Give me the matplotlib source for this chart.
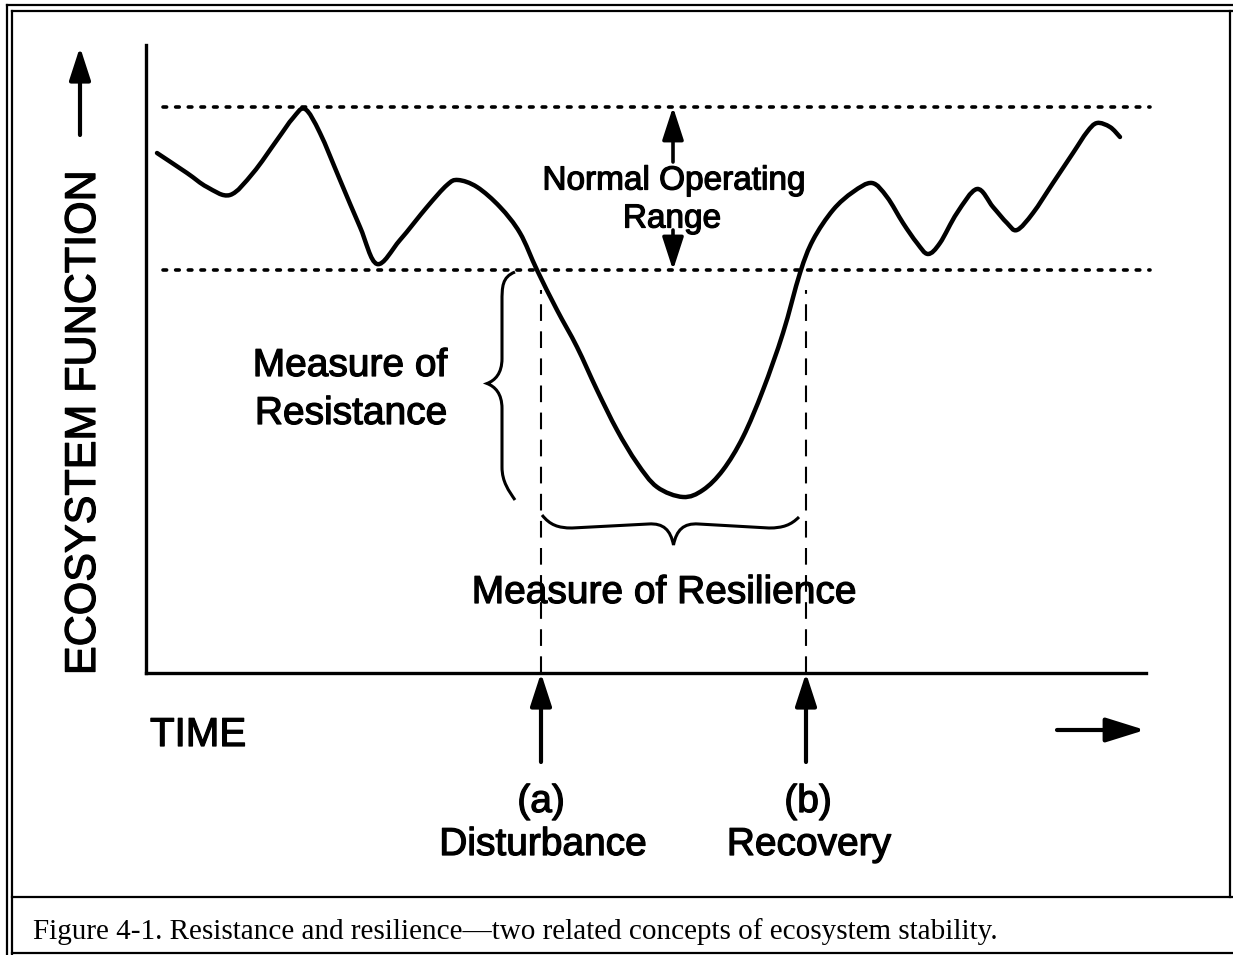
import matplotlib
matplotlib.use("Agg")
import matplotlib.pyplot as plt
import matplotlib.patheffects as pe
from matplotlib.path import Path
from matplotlib.patches import PathPatch

plt.rcParams['font.family'] = ['Liberation Sans', 'DejaVu Sans']

# ecosystem function over time
time = [1.1, 4.1, 6.1, 8.4, 10.7, 13.1, 14.7, 15.9, 17.4, 19.4, 21.4, 23.1,
        25.4, 28.1, 30.1, 31.2, 33.1, 35.4, 37.4, 39.1, 41.1, 43.1, 45.1, 47.1,
        49.1, 51.1, 53.7, 55.7, 57.7, 59.7, 61.7, 63.7, 65.4, 66.7, 68.7, 70.7,
        72.6, 74.1, 75.7, 77.1, 78.2, 79.4, 81.1, 83.1, 84.7, 86.1, 87.1, 88.7,
        90.7, 92.7, 94.1, 95.1, 96.4, 97.4]
function = [52.0, 50.0, 48.6, 47.8, 50.0, 53.3, 55.5, 56.4, 54.0, 49.3, 44.6, 40.9,
            43.3, 46.6, 48.8, 49.3, 48.6, 46.6, 44.0, 40.3, 36.3, 32.6, 28.3, 24.3,
            21.0, 18.6, 17.6, 18.3, 20.3, 23.6, 28.3, 34.0, 40.0, 43.3, 46.3, 48.1,
            49.0, 47.6, 45.0, 43.0, 41.9, 43.0, 46.0, 48.4, 46.6, 45.0, 44.3, 46.0,
            49.0, 52.0, 54.1, 55.0, 54.6, 53.6]

range_low = 40.3
range_high = 56.6
t_disturbance = 39.5
t_recovery = 66.0

W, H = 1233, 955
fig = plt.figure(figsize=(W / 100, H / 100), dpi=100)
thick = [pe.withStroke(linewidth=0.9, foreground='k')]

# page frame + caption, in pixel coordinates
ov = fig.add_axes([0, 0, 1, 1])
ov.set_xlim(0, W)
ov.set_ylim(H, 0)
ov.axis('off')
frame = [((7, 7), (5, H)), ((12, 12), (11, H)),
         ((7, W), (5, 5)), ((12, W), (11, 11)),
         ((1230, 1230), (11, 897)), ((12, W), (897, 897)),
         ((12, W), (953, 953))]
for xs, ys in frame:
    ov.plot(xs, ys, color='k', lw=1.6)
ov.text(33, 932, "Figure 4-1. Resistance and resilience\u2014two related concepts of ecosystem stability.",
        family='Liberation Serif', fontsize=21, va='center', ha='left')

# main diagram
ax = fig.add_axes([146 / W, (H - 673) / H, 1000 / W, 628 / H])
ax.set_xlim(0, 100)
ax.set_ylim(0, 62.8)
ax.patch.set_visible(False)
for s in ['top', 'right']:
    ax.spines[s].set_visible(False)
for s in ['left', 'bottom']:
    ax.spines[s].set_linewidth(2.4)
ax.set_xticks([])
ax.set_yticks([])

# normal operating range
for lvl in [range_low, range_high]:
    ax.plot([1.7, 100.4], [lvl, lvl], color='k', lw=2.6, linestyle=(0, (1.0, 2.5)),
            dash_capstyle='round', clip_on=False)

# smooth curve through the read points (Catmull-Rom as cubic Bezier)
pts = list(zip(time, function))
verts = [pts[0]]
codes = [Path.MOVETO]
for i in range(len(pts) - 1):
    p0 = pts[i - 1] if i > 0 else pts[i]
    p1, p2 = pts[i], pts[i + 1]
    p3 = pts[i + 2] if i + 2 < len(pts) else p2
    c1 = (p1[0] + (p2[0] - p0[0]) / 6, p1[1] + (p2[1] - p0[1]) / 6)
    c2 = (p2[0] - (p3[0] - p1[0]) / 6, p2[1] - (p3[1] - p1[1]) / 6)
    verts += [c1, c2, p2]
    codes += [Path.CURVE4] * 3
ax.add_patch(PathPatch(Path(verts, codes), fill=False, lw=3.2, joinstyle='round',
                       capstyle='round', zorder=3))

# disturbance / recovery markers
for t in [t_disturbance, t_recovery]:
    ax.plot([t, t], [0, range_low - 2.0], color='k', lw=1.5, linestyle=(0, (8, 5)))

arrow_kw = dict(arrowstyle='-|>,head_length=0.4,head_width=0.13', color='k', lw=3,
                mutation_scale=50, shrinkA=0, shrinkB=0)
for t in [t_disturbance, t_recovery]:
    ax.annotate('', xy=(t, 0), xytext=(t, -8.9), arrowprops=arrow_kw, annotation_clip=False)

mid_t = 52.7
ax.annotate('', xy=(mid_t, range_high), xytext=(mid_t, 51.1),
            arrowprops=dict(arrow_kw, lw=2.6), annotation_clip=False)
ax.annotate('', xy=(mid_t, range_low), xytext=(mid_t, 44.3),
            arrowprops=dict(arrow_kw, lw=2.6), annotation_clip=False)

# axis arrows
ax.annotate('', xy=(-6.6, 62.6), xytext=(-6.6, 53.8), arrowprops=arrow_kw, annotation_clip=False)
ax.annotate('', xy=(99.9, -5.7), xytext=(91.1, -5.7),
            arrowprops=dict(arrow_kw, arrowstyle='-|>,head_length=0.48,head_width=0.15'),
            annotation_clip=False)

# braces
f_min = min(function)
t0 = 36.9
fm = (range_low + f_min) / 2
verts = [(t0, range_low - 0.2),
         (t0 - 1.3, range_low - 0.7), (t0 - 1.3, range_low - 1.7), (t0 - 1.3, range_low - 3.2),
         (t0 - 1.3, fm + 2.5),
         (t0 - 1.3, fm + 1.0), (t0 - 2.0, fm + 0.3), (t0 - 2.8, fm),
         (t0 - 2.0, fm - 0.3), (t0 - 1.3, fm - 1.0), (t0 - 1.3, fm - 2.5),
         (t0 - 1.3, f_min + 3.0),
         (t0 - 1.3, f_min + 1.5), (t0 - 0.6, f_min + 0.6), (t0, f_min - 0.3)]
codes = [Path.MOVETO] + [Path.CURVE4] * 3 + [Path.LINETO] + [Path.CURVE4] * 6 + \
        [Path.LINETO] + [Path.CURVE4] * 3
ax.add_patch(PathPatch(Path(verts, codes), fill=False, lw=2.2, clip_on=False))

fe = 15.8
ta, tb = t_disturbance + 0.1, t_recovery - 0.7
tm = (t_disturbance + t_recovery) / 2
verts = [(ta, fe),
         (ta + 0.8, fe - 1.0), (ta + 1.6, fe - 1.3), (ta + 3.0, fe - 1.3),
         (tm - 2.5, fe - 0.9),
         (tm - 1.0, fe - 0.8), (tm - 0.3, fe - 1.5), (tm, fe - 3.0),
         (tm + 0.3, fe - 1.5), (tm + 1.0, fe - 0.8), (tm + 2.5, fe - 0.9),
         (tb - 3.0, fe - 1.3),
         (tb - 1.6, fe - 1.3), (tb - 0.8, fe - 1.0), (tb, fe - 0.2)]
ax.add_patch(PathPatch(Path(verts, codes), fill=False, lw=2.2, clip_on=False))

# labels
txt = dict(ha='center', va='center', path_effects=thick)
ax.text(mid_t + 0.1, 49.2, "Normal Operating", fontsize=24, **txt)
ax.text(mid_t - 0.1, 45.4, "Range", fontsize=24, **txt)
ax.text(20.4, 30.7, "Measure of", fontsize=28, **txt)
ax.text(20.5, 25.9, "Resistance", fontsize=28, **txt)
ax.text(51.8, 8.0, "Measure of Resilience", fontsize=28, **txt)
ax.text(0.4, -6.2, "TIME", fontsize=29, ha='left', va='center', path_effects=thick)
ax.text(t_disturbance, -12.9, "(a)", fontsize=28, **txt)
ax.text(t_disturbance + 0.2, -17.2, "Disturbance", fontsize=28, **txt)
ax.text(t_recovery + 0.2, -12.9, "(b)", fontsize=28, **txt)
ax.text(t_recovery + 0.3, -17.2, "Recovery", fontsize=28, **txt)
ax.text(-6.2, 25.0, "ECOSYSTEM FUNCTION", fontsize=31, rotation=90, **txt)

fig.savefig("out.png", dpi=100)
